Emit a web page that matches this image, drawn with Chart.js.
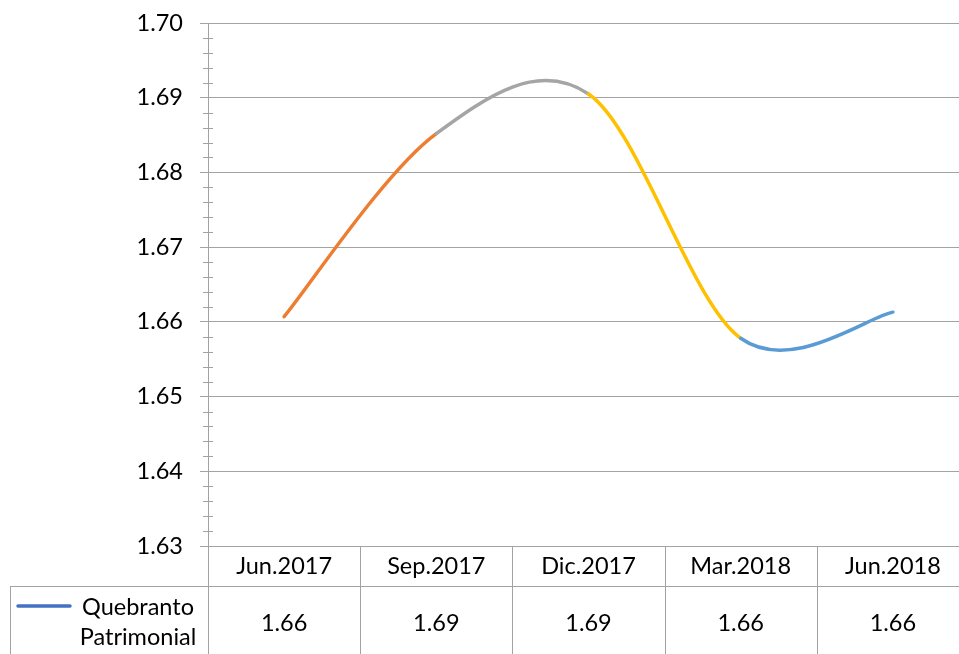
<!DOCTYPE html>
<html>
<head>
<meta charset="utf-8">
<script src="https://cdn.jsdelivr.net/npm/chart.js@4/dist/chart.umd.min.js"></script>
<style>
  html, body { margin: 0; padding: 0; background: #ffffff; overflow: hidden; }
  #wrap { width: 959px; height: 654px; overflow: hidden; }
  canvas { display: block; }
</style>
</head>
<body>
<div id="wrap"><canvas id="chart" width="970" height="654"></canvas></div>
<script>
// Quarterly periods
const categories = ['Jun.2017', 'Sep.2017', 'Dic.2017', 'Mar.2018', 'Jun.2018'];
// Quebranto Patrimonial ratio per period
const seriesValues = [1.6607, 1.6852, 1.6905, 1.6578, 1.6613];
const seriesName = ['Quebranto', 'Patrimonial'];
// Y axis range and steps
const yMin = 1.63, yMax = 1.70, yStep = 0.01, yMinorStep = 0.002;

const segmentColors = ['#ED7D31', '#A5A5A5', '#FFC000', '#5B9BD5'];
const legendColor = '#4472C4';
const lineGray = '#a3a3a3';
const FONT = 'Lato, "Open Sans", sans-serif';
const FONT_SIZE = 23.5;

// Uniform Catmull-Rom smoothing (tangent = (next - prev) / 6)
const smoothLine = {
  id: 'smoothLine',
  beforeDatasetsDraw(chart) {
    chart.data.datasets.forEach((ds, di) => {
      const meta = chart.getDatasetMeta(di);
      const line = meta.dataset;
      const pts = meta.data;
      if (!line || pts.length < 2) return;
      line.updateControlPoints(chart.chartArea, meta.indexAxis);
      const n = pts.length;
      for (let i = 0; i < n; i++) {
        const prev = pts[Math.max(i - 1, 0)];
        const next = pts[Math.min(i + 1, n - 1)];
        const dx = (next.x - prev.x) / 6;
        const dy = (next.y - prev.y) / 6;
        pts[i].cp1x = pts[i].x - dx;
        pts[i].cp1y = pts[i].y - dy;
        pts[i].cp2x = pts[i].x + dx;
        pts[i].cp2y = pts[i].y + dy;
      }
      delete line._path;
    });
  }
};

// Minor tick marks across the value axis
const minorTicks = {
  id: 'minorTicks',
  afterDatasetsDraw(chart) {
    const y = chart.scales.y;
    const x0 = y.right;
    const ctx = chart.ctx;
    ctx.save();
    ctx.strokeStyle = lineGray;
    ctx.lineWidth = 1;
    const n = Math.round((yMax - yMin) / yMinorStep);
    const per = Math.round(yStep / yMinorStep);
    for (let i = 0; i <= n; i++) {
      if (i % per === 0) continue;
      const py = Math.round(y.getPixelForValue(yMin + i * yMinorStep)) + 0.5;
      ctx.beginPath();
      ctx.moveTo(x0 - 5, py);
      ctx.lineTo(x0 + 5, py);
      ctx.stroke();
    }
    ctx.restore();
  }
};

// Data table under the plot: cell borders, legend key and values
const dataTable = {
  id: 'dataTable',
  afterDraw(chart) {
    const ctx = chart.ctx;
    const xs = chart.scales.x;
    const area = chart.chartArea;
    const top = area.bottom;
    const rowY = top + 40;
    const bottom = chart.height + 5;
    const half = (xs.getPixelForValue(1) - xs.getPixelForValue(0)) / 2;
    ctx.save();
    ctx.strokeStyle = lineGray;
    ctx.lineWidth = 1;
    // vertical separators
    for (let i = 0; i <= categories.length; i++) {
      const px = Math.round(xs.getPixelForValue(0) - half + i * 2 * half) + 0.5;
      ctx.beginPath();
      ctx.moveTo(px, top);
      ctx.lineTo(px, bottom);
      ctx.stroke();
    }
    // row separator and legend cell left border
    ctx.beginPath();
    ctx.moveTo(10, rowY + 0.5);
    ctx.lineTo(chart.width, rowY + 0.5);
    ctx.moveTo(10.5, rowY);
    ctx.lineTo(10.5, bottom);
    ctx.stroke();
    // legend key
    ctx.strokeStyle = legendColor;
    ctx.lineWidth = 3.5;
    ctx.lineCap = 'round';
    ctx.beginPath();
    ctx.moveTo(18, rowY + 20);
    ctx.lineTo(70, rowY + 20);
    ctx.stroke();
    ctx.fillStyle = '#000000';
    ctx.font = FONT_SIZE + 'px ' + FONT;
    ctx.textAlign = 'center';
    ctx.textBaseline = 'middle';
    ctx.fillText(seriesName[0], 138, rowY + 21);
    ctx.fillText(seriesName[1], 138, rowY + 51);
    // values
    seriesValues.forEach((v, i) => {
      ctx.fillText(v.toFixed(2), xs.getPixelForValue(i), rowY + 37);
    });
    ctx.restore();
  }
};

new Chart(document.getElementById('chart'), {
  type: 'line',
  data: {
    labels: categories,
    datasets: [{
      label: seriesName.join(' '),
      data: seriesValues,
      borderWidth: 3.5,
      borderColor: segmentColors[0],
      borderCapStyle: 'round',
      pointRadius: 0,
      pointHoverRadius: 0,
      tension: 0.4,
      fill: false,
      segment: {
        borderColor: c => segmentColors[c.p0DataIndex]
      }
    }]
  },
  options: {
    responsive: false,
    animation: false,
    events: [],
    layout: { padding: { top: 23, right: 1, left: 0, bottom: 0 } },
    plugins: {
      legend: { display: false },
      tooltip: { enabled: false },
      title: { display: false }
    },
    scales: {
      x: {
        offset: true,
        afterFit: s => { s.height = 108; s.paddingLeft = 0; s.paddingRight = 0; },
        grid: { display: false, drawTicks: false },
        border: { display: false },
        ticks: {
          padding: 6,
          color: '#000000',
          maxRotation: 0,
          autoSkip: false,
          font: { family: FONT, size: FONT_SIZE }
        }
      },
      y: {
        min: yMin,
        max: yMax,
        afterFit: s => { s.width = 208; s.paddingTop = 0; s.paddingBottom = 0; },
        grid: { color: lineGray, lineWidth: 1, tickLength: 8, tickColor: lineGray },
        border: { display: true, color: lineGray, width: 1 },
        ticks: {
          stepSize: yStep,
          padding: 17,
          color: '#000000',
          font: { family: FONT, size: FONT_SIZE },
          callback: v => Number(v).toFixed(2)
        }
      }
    }
  },
  plugins: [smoothLine, minorTicks, dataTable]
});
</script>
</body>
</html>
